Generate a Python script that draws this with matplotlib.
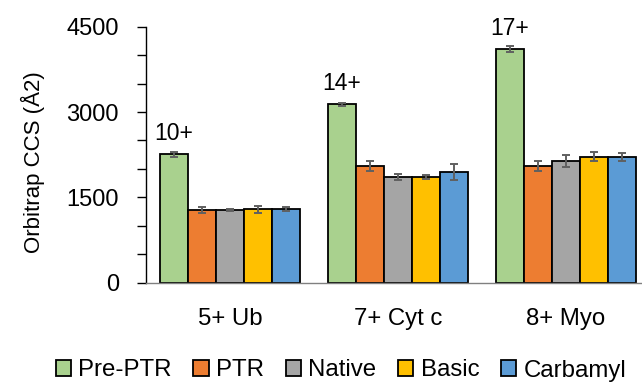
"""Orbitrap CCS per charge state, grouped bars with error bars."""

import numpy as np
import matplotlib
matplotlib.use('Agg')
import matplotlib.pyplot as plt

CATEGORIES = ['5+ Ub', '7+ Cyt c', '8+ Myo']
SERIES = ['Pre-PTR', 'PTR', 'Native', 'Basic', 'Carbamyl']
COLORS = ['#A9D18E', '#ED7D31', '#A5A5A5', '#FFC000', '#5B9BD5']

PRE_PTR = [2257, 3136, 4102]
PTR = [1278, 2051, 2057]
NATIVE = [1278, 1860, 2133]
BASIC = [1290, 1852, 2215]
CARBAMYL = [1295, 1951, 2204]

PRE_PTR_ERR = [40, 30, 50]
PTR_ERR = [58, 82, 88]
NATIVE_ERR = [15, 47, 105]
BASIC_ERR = [58, 35, 82]
CARBAMYL_ERR = [35, 144, 73]

CHARGE_LABELS = ['10+', '14+', '17+']


def set_style() -> None:
    plt.rcParams['font.family'] = ['Liberation Sans', 'DejaVu Sans']
    plt.rcParams['font.size'] = 17


def main():
    set_style()

    values = [PRE_PTR, PTR, NATIVE, BASIC, CARBAMYL]
    errors = [PRE_PTR_ERR, PTR_ERR, NATIVE_ERR, BASIC_ERR, CARBAMYL_ERR]

    fig = plt.figure(figsize=(6.42, 3.82), dpi=100)
    ax = fig.add_axes([146 / 642, 1 - 282.7 / 382, 504 / 642, 256 / 382])

    x = np.arange(len(CATEGORIES))
    width = 1 / 6
    for i, (name, vals, errs, col) in enumerate(zip(SERIES, values, errors, COLORS)):
        pos = x + (i - 2) * width
        ax.bar(pos, vals, width=width, color=col, edgecolor='black',
               linewidth=1.3, label=name, zorder=2)
        ax.errorbar(pos, vals, yerr=errs, fmt='none', ecolor='#606060',
                    elinewidth=1.4, capsize=3, capthick=1.4, zorder=3)

    # charge state labels above the Pre-PTR bars
    for xi, val, txt in zip(x - 2 * width, PRE_PTR, CHARGE_LABELS):
        ax.annotate(txt, (xi, val), xytext=(0, 10.5), textcoords='offset points',
                    ha='center', va='baseline', fontsize=16.5)

    ax.set_xlim(-0.5, 2.5)
    ax.set_ylim(0, 4500)
    ax.set_yticks([0, 1500, 3000, 4500])
    ax.set_yticks(np.arange(0, 4501, 500), minor=True)
    ax.tick_params(axis='y', which='both', direction='out', length=6.5,
                   width=1.0, pad=13, labelsize=17)
    ax.set_xticks(x)
    ax.set_xticklabels(CATEGORIES)
    ax.tick_params(axis='x', length=0, pad=18.5, labelsize=17.3)

    for side in ['top', 'right']:
        ax.spines[side].set_visible(False)
    ax.spines['left'].set_linewidth(1.0)
    ax.spines['bottom'].set_color('#808080')
    ax.spines['bottom'].set_linewidth(1.0)

    fig.text(32.5 / 642, 1 - 162 / 382, 'Orbitrap CCS (Å2)', rotation=90,
             ha='center', va='center', fontsize=16)

    fig.legend(loc='center', bbox_to_anchor=(341 / 642, 11.5 / 382),
               bbox_transform=fig.transFigure, ncol=5, frameon=False,
               fontsize=17.3, handlelength=0.64, handleheight=0.68,
               handletextpad=0.3, columnspacing=0.9, borderpad=0,
               borderaxespad=0)

    fig.savefig('out.png', dpi=100)
    plt.close()


if __name__ == '__main__':
    main()
